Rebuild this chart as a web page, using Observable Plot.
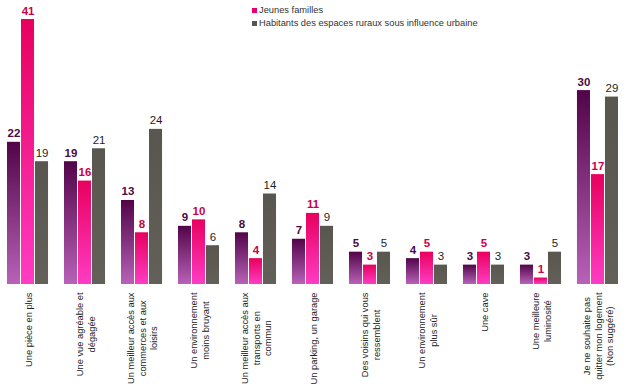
<!DOCTYPE html>
<html>
<head>
<meta charset="utf-8">
<script src="https://cdn.jsdelivr.net/npm/d3@7"></script>
<script src="https://cdn.jsdelivr.net/npm/@observablehq/plot@0.6"></script>
<style>
  body { margin: 0; background: #fff; font-family: "Liberation Sans", Arial, sans-serif; }
  #wrap { position: relative; width: 629px; height: 392px; }
  #legend { position: absolute; left: 252px; top: 4px; font-size: 9.3px; color: #333; line-height: 13px; }
  #legend .sw { display: inline-block; width: 5px; height: 5px; margin-right: 2px; vertical-align: 0px; }
</style>
</head>
<body>
<svg width="0" height="0" style="position:absolute">
  <defs>
    <linearGradient id="gPurple" x1="0" y1="0" x2="0" y2="1">
      <stop offset="0" stop-color="#520448"/>
      <stop offset="1" stop-color="#b862b8"/>
    </linearGradient>
    <linearGradient id="gPink" x1="0" y1="0" x2="0" y2="1">
      <stop offset="0" stop-color="#e8005e"/>
      <stop offset="1" stop-color="#ff3cc4"/>
    </linearGradient>
    <linearGradient id="gGray" x1="0" y1="0" x2="0" y2="1">
      <stop offset="0" stop-color="#58564e"/>
      <stop offset="1" stop-color="#626058"/>
    </linearGradient>
  </defs>
</svg>
<div id="wrap">
  <div id="legend">
    <div><span class="sw" style="background:#e8006a"></span>Jeunes familles</div>
    <div><span class="sw" style="background:#58564e"></span>Habitants des espaces ruraux sous influence urbaine</div>
  </div>
</div>
<script>
const categories = [
  "Une pièce en plus",
  "Une vue agréable et\ndégagée",
  "Un meilleur accès aux\ncommerces et aux\nloisirs",
  "Un environnement\nmoins bruyant",
  "Un meilleur accès aux\ntransports en\ncommun",
  "Un parking, un garage",
  "Des voisins qui vous\nressemblent",
  "Un environnement\nplus sûr",
  "Une cave",
  "Une meilleure\nluminosité",
  "Je ne souhaite pas\nquitter mon logement\n(Non suggéré)"
];
const seriesKeys = ["Ensemble", "Jeunes familles", "Habitants des espaces ruraux sous influence urbaine"];
const ensemble = [22, 19, 13, 9, 8, 7, 5, 4, 3, 3, 30];
const jeunesFamilles = [41, 16, 8, 10, 4, 11, 3, 5, 5, 1, 17];
const habitantsRuraux = [19, 21, 24, 6, 14, 9, 5, 3, 3, 5, 29];

const valuesBySeries = [ensemble, jeunesFamilles, habitantsRuraux];
const rows = categories.flatMap((c, i) =>
  seriesKeys.map((s, k) => ({cat: c, s, v: valuesBySeries[k][i]}))
);

const labelFont = 9.3;
const ctx = document.createElement("canvas").getContext("2d");
ctx.font = labelFont + "px 'Liberation Sans'";
const maxW = (t) => Math.max(...t.split("\n").map(l => ctx.measureText(l).width));

const labelStyles = [
  {fill: "#4a0a44", fontWeight: "bold"},
  {fill: "#cc0048", fontWeight: "bold"},
  {fill: "#1e1e1e", fontWeight: "normal"}
];

const plot = Plot.plot({
  width: 629,
  height: 392,
  marginTop: 19,
  marginBottom: 108,
  marginLeft: 7,
  marginRight: 11,
  style: {fontFamily: "'Liberation Sans', Arial, sans-serif", background: "transparent"},
  fx: {domain: categories, paddingInner: 0.28, paddingOuter: 0, round: false, axis: null, label: null},
  x: {domain: seriesKeys, paddingInner: 0.07, paddingOuter: 0, round: false, axis: null},
  y: {domain: [0, 41], axis: null},
  color: {domain: seriesKeys, range: ["url(#gPurple)", "url(#gPink)", "url(#gGray)"]},
  marks: [
    Plot.barY(rows, {fx: "cat", x: "s", y: "v", fill: "s"}),
    ...seriesKeys.map((s, k) =>
      Plot.text(rows.filter(d => d.s === s), {
        fx: "cat", x: "s", y: "v", text: d => String(d.v),
        dy: -5, lineAnchor: "bottom", fontSize: 11.5,
        fill: labelStyles[k].fill, fontWeight: labelStyles[k].fontWeight
      })
    ),
    ...categories.map(c =>
      Plot.text([c], {
        fx: d => d, text: d => d, frameAnchor: "bottom",
        rotate: -90, textAnchor: "middle", lineAnchor: "middle",
        lineHeight: 1.25, fontSize: labelFont, fill: "#222",
        dy: 8 + maxW(c) / 2
      })
    )
  ]
});
document.getElementById("wrap").prepend(plot);
</script>
</body>
</html>
